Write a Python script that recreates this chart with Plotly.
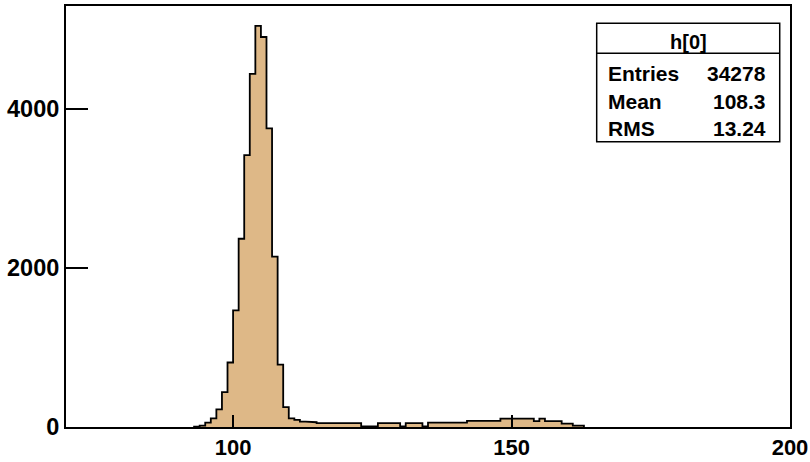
import plotly.graph_objects as go

# ---- data ----
bin_low = list(range(93, 163))          # lower edges of the filled bins (width 1)
counts = [
    5, 18, 54, 109, 222, 440, 812, 1467, 2370, 3422,      # 93-102
    4445, 5050, 4910, 3760, 2145, 785, 250, 109, 90, 67,  # 103-112
    67, 60, 50, 50, 50, 50, 50, 50, 50, 50,               # 113-122
    8, 8, 8, 50, 50, 50, 50, 8, 50, 50,                   # 123-132
    50, 8, 55, 55, 55, 55, 55, 55, 55, 78,                # 133-142
    78, 78, 78, 78, 78, 105, 105, 105, 105, 105,          # 143-152
    105, 75, 105, 75, 75, 75, 42, 42, 18, 18,             # 153-162
]
x_range = [70, 200]
y_range = [0, 5300]
x_ticks = [100, 150, 200]
y_ticks = [0, 2000, 4000]
stat_title = "h[0]"
stat_labels = ["Entries", "Mean", "RMS"]
stat_values = ["34278", "108.3", "13.24"]

FILL = "#DEB887"
FONT = "Liberation Sans"

centers = [b + 0.5 for b in bin_low]

# step outline built from the bins
ox, oy = [bin_low[0]], [0]
for b, c in zip(bin_low, counts):
    ox += [b, b + 1]
    oy += [c, c]
ox.append(bin_low[-1] + 1)
oy.append(0)

fig = go.Figure()
fig.add_trace(go.Bar(x=centers, y=counts, width=1,
                     marker=dict(color=FILL, line=dict(width=0)),
                     hoverinfo="skip", showlegend=False))
fig.add_trace(go.Scatter(x=ox, y=oy, mode="lines",
                         line=dict(color="black", width=1.8),
                         hoverinfo="skip", showlegend=False))

axis_common = dict(showgrid=False, zeroline=False, showline=True, mirror=True,
                   linecolor="black", linewidth=2, ticks="inside",
                   tickcolor="black", automargin=False, ticklabeloverflow="allow")

fig.update_xaxes(range=x_range, tickvals=x_ticks, ticklen=12, tickwidth=1.5,
                 tickfont=dict(family=FONT, size=22, color="black", weight="bold"),
                 **axis_common)
fig.update_yaxes(range=y_range, tickvals=y_ticks, ticklen=22, tickwidth=1.5,
                 tickfont=dict(family=FONT, size=23.5, color="black", weight="bold"),
                 **axis_common)

# stats box (paper coords)
bx0, bx1, by0, by1, bsep = 0.733, 0.9858, 0.6777, 0.9589, 0.8876
fig.add_shape(type="rect", xref="paper", yref="paper", x0=bx0, x1=bx1, y0=by0, y1=by1,
              line=dict(color="black", width=1.5), fillcolor="white", layer="above")
fig.add_shape(type="line", xref="paper", yref="paper", x0=bx0, x1=bx1, y0=bsep, y1=bsep,
              line=dict(color="black", width=1.5), layer="above")
fig.add_annotation(xref="paper", yref="paper", x=(bx0 + bx1) / 2, y=0.915,
                   text=stat_title, showarrow=False, xanchor="center", yanchor="middle",
                   font=dict(family=FONT, size=20, color="black", weight="bold"))
rows_y = [0.840, 0.7727, 0.7095]
for lab, val, yy in zip(stat_labels, stat_values, rows_y):
    fig.add_annotation(xref="paper", yref="paper", x=0.7456, y=yy, text=lab,
                       showarrow=False, xanchor="left", yanchor="middle",
                       font=dict(family=FONT, size=21, color="black", weight="bold"))
    fig.add_annotation(xref="paper", yref="paper", x=0.9697, y=yy, text=val,
                       showarrow=False, xanchor="right", yanchor="middle",
                       font=dict(family=FONT, size=21, color="black", weight="bold"))

fig.update_layout(width=810, height=462,
                  margin=dict(l=66, r=20, t=6, b=35),
                  paper_bgcolor="white", plot_bgcolor="white",
                  bargap=0, showlegend=False)

fig.write_html("out.html", config={"displayModeBar": False},
               post_script="document.body.style.margin='0px';")
